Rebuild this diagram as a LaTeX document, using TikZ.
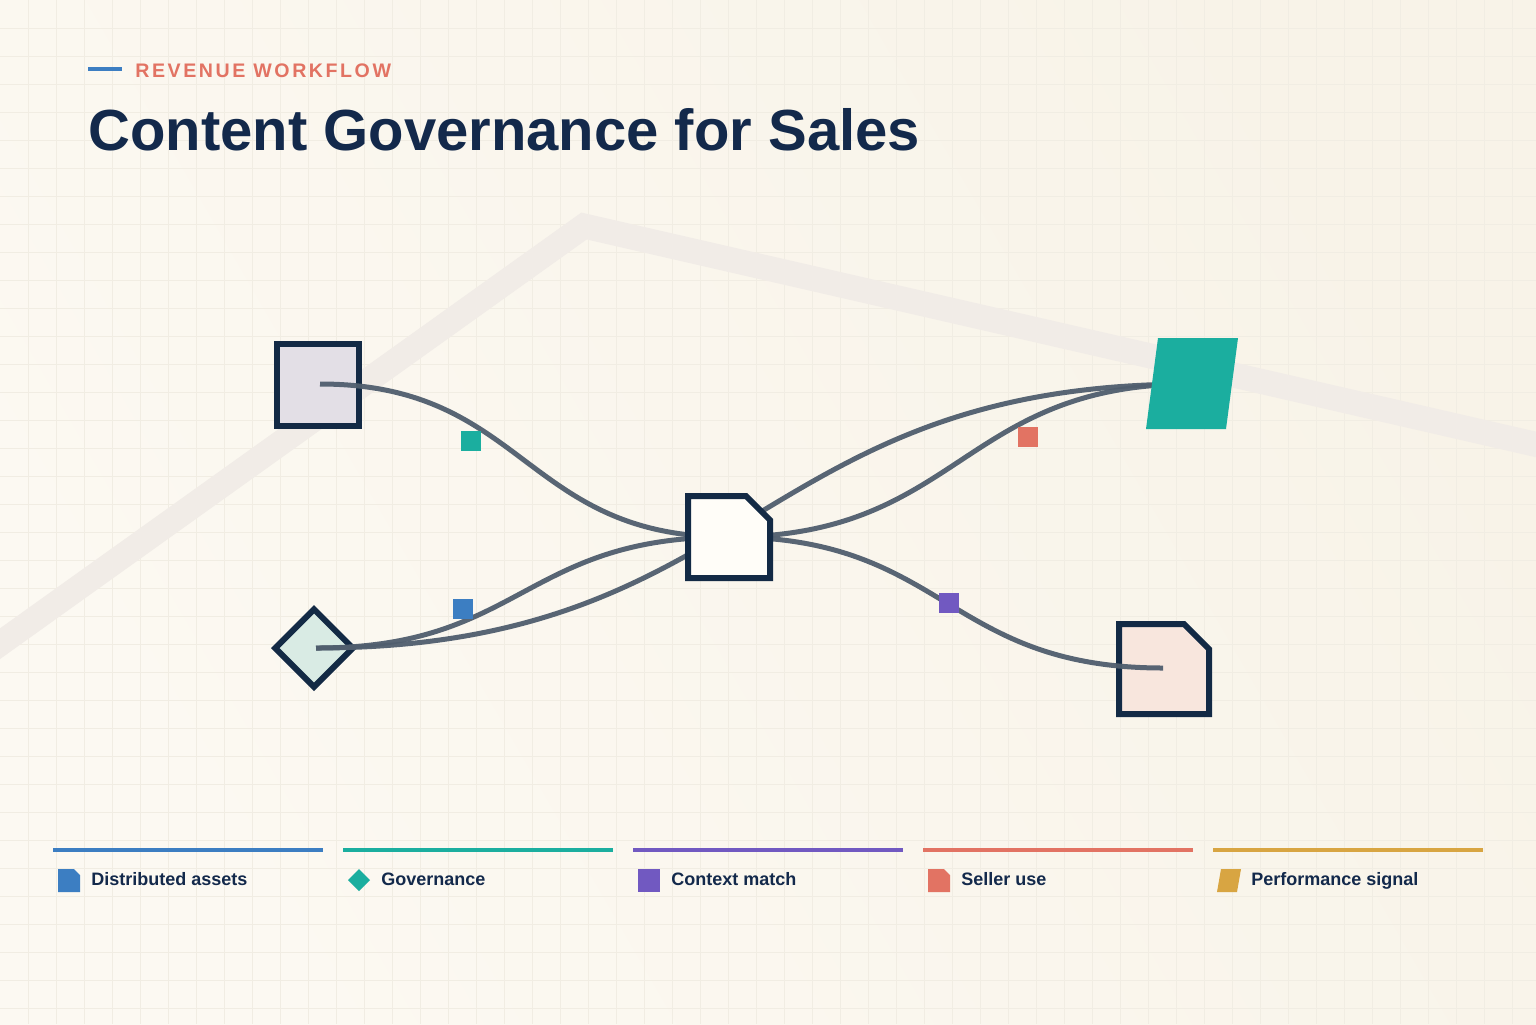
\documentclass[tikz,border=0pt]{standalone}
\usepackage{fontspec}
\setmainfont{Liberation Sans}
\usetikzlibrary{shapes.geometric,calc}
\definecolor{bgA}{HTML}{F8F3E8}
\definecolor{bgB}{HTML}{FCF9F2}
\definecolor{gridc}{HTML}{F1EDE3}
\definecolor{bandc}{HTML}{F1ECE7}
\definecolor{navy}{HTML}{132A45}
\definecolor{titlec}{HTML}{13294B}
\definecolor{coral}{HTML}{E27363}
\definecolor{cblue}{HTML}{3C7EC2}
\definecolor{cteal}{HTML}{1BAE9F}
\definecolor{cpurple}{HTML}{7159C1}
\definecolor{cgold}{HTML}{D8A542}
\definecolor{edgec}{HTML}{505E6E}
\definecolor{lavfill}{HTML}{E3DFE6}
\definecolor{mintfill}{HTML}{D9EBE4}
\definecolor{docfill}{HTML}{FFFDF8}
\definecolor{peachfill}{HTML}{F8E6DD}
\begin{document}
\begin{tikzpicture}[x=0.5pt,y=-0.5pt,
  shapeline/.style={draw=navy,line width=3pt,line join=miter},
  edge/.style={draw=edgec,line width=2.5pt,opacity=0.95},
  marker/.style={minimum size=10pt,inner sep=0pt,draw=none},
  legline/.style={line width=2.3pt},
  legtext/.style={font=\fontsize{9}{11}\selectfont\bfseries,text=titlec,inner sep=0pt,anchor=base west}]
\useasboundingbox (0,0) rectangle (1536,1024);
\shade[left color=bgA,right color=bgB,shading angle=-60] (0,0) rectangle (1536,1024);
\foreach \i in {1,...,54} \draw[gridc,line width=0.5pt] (\i*28,0) -- (\i*28,1024);
\foreach \j in {1,...,36} \draw[gridc,line width=0.5pt] (0,\j*28) -- (1536,\j*28);
\draw[bandc,line width=12.5pt,line join=miter] (-20,658) -- (584,226) -- (1556,449);

% header
\draw[cblue,line width=2pt] (88,69) -- (122,69);
\node[anchor=base west,inner sep=0pt,text=coral,font=\fontsize{9.8}{12}\selectfont\bfseries\addfontfeature{LetterSpace=13}] (kicker) at (135,77) {REVENUE WORKFLOW};
\node[anchor=base west,inner sep=0pt,text=titlec,font=\fontsize{29}{34}\selectfont\bfseries] (title) at (88,150) {Content Governance for Sales};

% nodes drawn under the connectors
\node[shapeline,fill=lavfill,rectangle,minimum size=41pt,inner sep=0pt] (assets) at (318,385) {};
\node[shapeline,fill=mintfill,diamond,aspect=1,minimum size=40pt,inner sep=0pt] (gov) at (314,648) {};
\draw[shapeline,fill=peachfill] (1119,624) -- (1184,624) -- (1209,649) -- (1209,714) -- (1119,714) -- cycle;
\coordinate (seller) at (1163,668);
\coordinate (assetsC) at (320,384);
\coordinate (govC) at (316,648);
\coordinate (ctr) at (729,537);
\coordinate (perf) at (1192,384);

% connectors
\draw[edge] (assetsC) .. controls +(205,0) and +(-205,0) .. (ctr);
\draw[edge] (govC) .. controls +(206,0) and +(-206,0) .. (ctr);
\draw[edge] (govC) .. controls +(438,0) and +(-438,0) .. (perf);
\draw[edge] (ctr) .. controls +(231,0) and +(-231,0) .. (perf);
\draw[edge] (ctr) .. controls +(217,0) and +(-217,0) .. (seller);

% markers
\node[marker,fill=cteal] (m1) at (471,441) {};
\node[marker,fill=cblue] (m2) at (463,609) {};
\node[marker,fill=coral] (m3) at (1028,437) {};
\node[marker,fill=cpurple] (m4) at (949,603) {};

% nodes drawn over the connectors
\draw[shapeline,fill=docfill] (688,496) -- (746,496) -- (770,520) -- (770,578) -- (688,578) -- cycle;
\fill[cteal] (1158,338) -- (1238,338) -- (1226,429) -- (1146,429) -- cycle;

% legend
\draw[legline,cblue] (53,850) -- (323,850);
\draw[legline,cteal] (343,850) -- (613,850);
\draw[legline,cpurple] (633,850) -- (903,850);
\draw[legline,coral] (923,850) -- (1193,850);
\draw[legline,cgold] (1213,850) -- (1483,850);
\fill[cblue] (58,869) -- (74,869) -- (80,875) -- (80,892) -- (58,892) -- cycle;
\fill[cteal] (359,869) -- (370,880) -- (359,891) -- (348,880) -- cycle;
\fill[cpurple] (638,869) rectangle (660,892);
\fill[coral] (928,869) -- (944,869) -- (950,875) -- (950,892) -- (928,892) -- cycle;
\fill[cgold] (1221,869) -- (1241,869) -- (1237,892) -- (1217,892) -- cycle;
\node[legtext] (l1) at (91,885) {Distributed assets};
\node[legtext] (l2) at (381,885) {Governance};
\node[legtext] (l3) at (671,885) {Context match};
\node[legtext] (l4) at (961,885) {Seller use};
\node[legtext] (l5) at (1251,885) {Performance signal};
\end{tikzpicture}
\end{document}
